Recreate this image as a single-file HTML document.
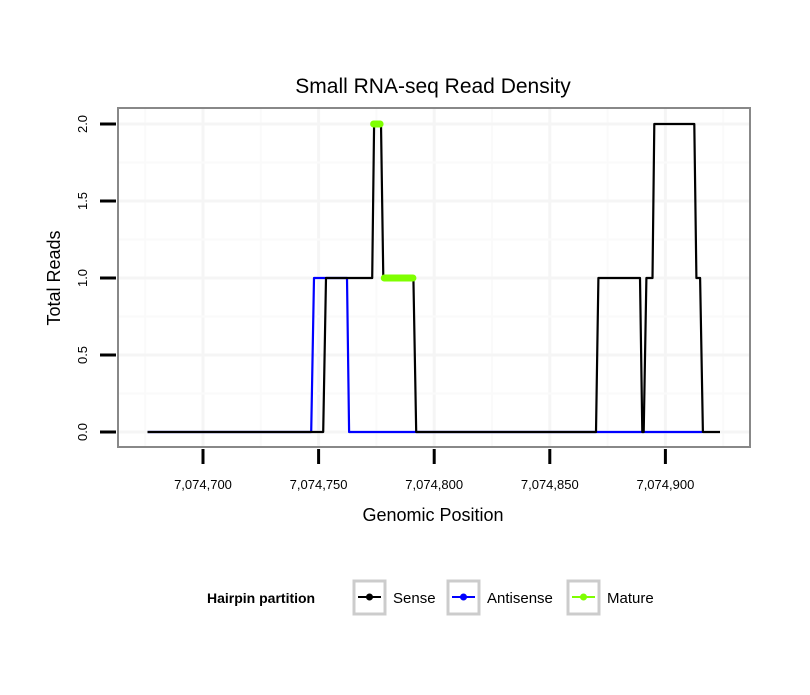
<!DOCTYPE html>
<html><head><meta charset="utf-8"><style>
body{margin:0;background:#fff;font-family:"Liberation Sans",sans-serif}
</style></head><body>
<svg width="810" height="690" xmlns="http://www.w3.org/2000/svg" font-family="Liberation Sans, sans-serif">
<rect width="810" height="690" fill="#fff"/>
<text x="433" y="93" font-size="21" text-anchor="middle">Small RNA-seq Read Density</text>
<g id="grid"></g>
<g id="series"></g>
<rect x="118" y="108" width="632" height="339" fill="none" stroke="#888" stroke-width="2"/>
<g id="axes"></g>
<text x="433" y="521" font-size="18" text-anchor="middle">Genomic Position</text>
<text transform="translate(60,278) rotate(-90)" font-size="18" text-anchor="middle">Total Reads</text>
<g>
<text x="207" y="603" font-size="14" font-weight="bold">Hairpin partition</text>
<g>
<rect x="354" y="581" width="31" height="33" fill="#fff" stroke="#ccc" stroke-width="3"/>
<line x1="358" y1="597" x2="381" y2="597" stroke="#000" stroke-width="2"/><circle cx="369.5" cy="597" r="3.5" fill="#000"/>
<text x="393" y="603" font-size="15">Sense</text></g>
<g>
<rect x="448" y="581" width="31" height="33" fill="#fff" stroke="#ccc" stroke-width="3"/>
<line x1="452" y1="597" x2="475" y2="597" stroke="#0000ff" stroke-width="2"/><circle cx="463.5" cy="597" r="3.5" fill="#0000ff"/>
<text x="487" y="603" font-size="15">Antisense</text></g>
<g>
<rect x="568" y="581" width="31" height="33" fill="#fff" stroke="#ccc" stroke-width="3"/>
<line x1="572" y1="597" x2="595" y2="597" stroke="#7fff00" stroke-width="2"/><circle cx="583.5" cy="597" r="3.5" fill="#7fff00"/>
<text x="607" y="603" font-size="15">Mature</text></g>
</g>
</svg>
<script>
const xTicks=[7074700,7074750,7074800,7074850,7074900];
const yTicks=[0,0.5,1,1.5,2];
const yTickLabels=["0.0","0.5","1.0","1.5","2.0"];
const senseX=[7074676,7074752,7074753.2,7074773.2,7074774,7074777,7074778,7074791,7074792.2,7074870,7074871,7074889,7074890,7074890.6,7074891.8,7074894.4,7074895.2,7074912.5,7074913.4,7074915,7074916.2,7074923.6];
const senseY=[0,0,1,1,2,2,1,1,0,0,1,1,0,0,1,1,2,2,1,1,0,0];
const antiX=[7074676,7074746.8,7074748,7074762.3,7074763.2,7074916];
const antiY=[0,0,1,1,0,0];
const matureSegX=[[7074773.8,7074776.6],[7074778.4,7074790.8]];
const matureSegY=[2,1];
const NS="http://www.w3.org/2000/svg";
function sx(v){return 203+(v-7074700)*2.312;}
function sy(v){return 432-v*154;}
function mk(tag,attrs,parent,txt){const e=document.createElementNS(NS,tag);for(const k in attrs)e.setAttribute(k,attrs[k]);if(txt!==undefined)e.textContent=txt;parent.appendChild(e);return e;}
const grid=document.getElementById('grid'),series=document.getElementById('series'),axes=document.getElementById('axes');
for(let v=7074675;v<=7074925;v+=25){const x=sx(v);if(x<119||x>749)continue;const g=mk('line',{x1:x,x2:x,y1:109,y2:446,stroke:(v%50===0)?'#f5f5f5':'#fafafa','stroke-width':(v%50===0)?3:2},grid);}
for(let v=0;v<=2.25;v+=0.25){const y=sy(v);if(y<109||y>446)continue;const g=mk('line',{x1:119,x2:749,y1:y,y2:y,stroke:(v*2%1===0)?'#f5f5f5':'#fafafa','stroke-width':(v*2%1===0)?3:2},grid);}
function path(xs,ys,color,name){let d='';xs.forEach((x,i)=>{d+=(i?'L':'M')+sx(x).toFixed(1)+','+sy(ys[i]).toFixed(1);});const p=mk('path',{d:d,fill:'none',stroke:color,'stroke-width':2.2,'stroke-linejoin':'round'},series);}
path(antiX,antiY,'#0000ff','antisense-line');
path(senseX,senseY,'#000','sense-line');
matureSegX.forEach((s,i)=>{const l=mk('line',{x1:sx(s[0]),x2:sx(s[1]),y1:sy(matureSegY[i]),y2:sy(matureSegY[i]),stroke:'#7fff00','stroke-width':7,'stroke-linecap':'round'},series);});
xTicks.forEach(v=>{const x=sx(v);const t=mk('line',{x1:x,x2:x,y1:449,y2:464,stroke:'#000','stroke-width':3},axes);const l=mk('text',{x:x,y:489,'font-size':13,'text-anchor':'middle'},axes,v.toLocaleString('en-US'));});
yTicks.forEach((v,i)=>{const y=sy(v);const t=mk('line',{x1:100,x2:116,y1:y,y2:y,stroke:'#000','stroke-width':3},axes);const l=mk('text',{transform:'translate(87,'+y+') rotate(-90)','font-size':13,'text-anchor':'middle'},axes,yTickLabels[i]);});
</script>
</body></html>
